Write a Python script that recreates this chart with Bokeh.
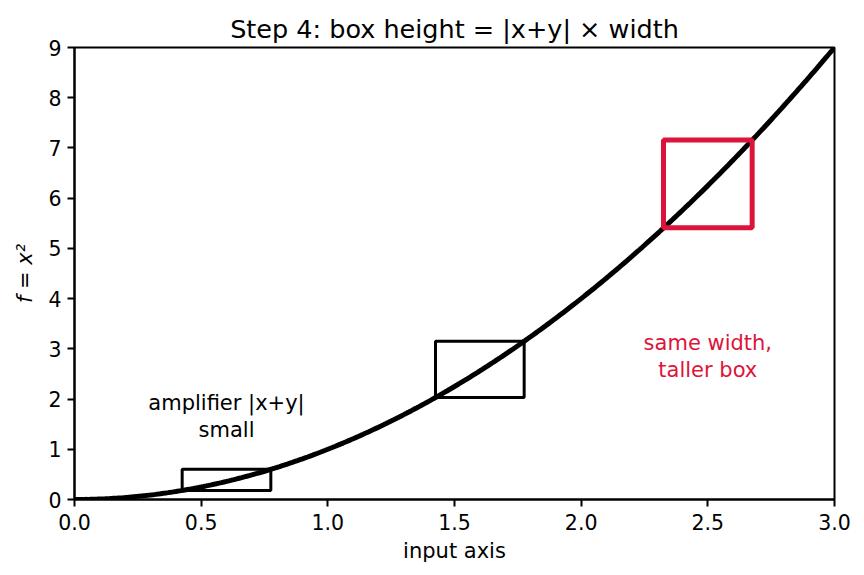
import numpy as np
from bokeh.plotting import figure
from bokeh.models import Range1d, FixedTicker, CustomJSTickFormatter
from bokeh.core.properties import value
from bokeh.embed import file_html
from bokeh.resources import INLINE

# curve f = x^2
curve_x = np.linspace(0, 3, 301)
curve_y = curve_x ** 2

# boxes
box_left = [0.425, 1.425, 2.325]
box_right = [0.775, 1.775, 2.675]
box_bottom = [0.18, 2.03, 5.41]
box_top = [0.60, 3.15, 7.16]
box_color = ["black", "black", "#DC143C"]
box_width = [3, 3, 5]

# annotations
note_x = [0.6, 2.5]
note_y = [1.65, 2.85]
note_text = ["amplifier |x+y|\nsmall", "same width,\ntaller box"]
note_color = ["black", "#DC143C"]

x_ticks = [0.0, 0.5, 1.0, 1.5, 2.0, 2.5, 3.0]
y_ticks = [0, 1, 2, 3, 4, 5, 6, 7, 8, 9]

FONT = "DejaVu Sans"

p = figure(width=864, height=575, output_backend="svg", toolbar_location=None,
           x_range=Range1d(0, 3), y_range=Range1d(0, 9),
           min_border_left=74, min_border_right=30, min_border_top=47, min_border_bottom=76,
           title="Step 4: box height = |x+y| × width")
p.title.align = "center"
p.title.text_font = FONT
p.title.text_font_size = "25.5px"
p.title.text_font_style = "normal"
p.title.text_color = "black"
p.title.standoff = 7

p.grid.visible = False
p.outline_line_color = "black"
p.outline_line_width = 2
p.outline_line_alpha = 1

for ax in (p.xaxis[0], p.yaxis[0]):
    ax.axis_line_width = 2
    ax.major_tick_line_width = 2
    ax.major_tick_out = 7
    ax.major_tick_in = 0
    ax.minor_tick_line_color = None
    ax.major_label_text_font = FONT
    ax.major_label_text_font_size = "20.5px"
    ax.major_label_text_color = "black"
    ax.axis_label_text_font = FONT
    ax.axis_label_text_font_size = "21px"
    ax.axis_label_text_font_style = "normal"
    ax.axis_label_text_color = "black"

p.xaxis.ticker = FixedTicker(ticks=x_ticks)
p.xaxis.formatter = CustomJSTickFormatter(code="return tick.toFixed(1);")
p.yaxis.ticker = FixedTicker(ticks=y_ticks)
p.xaxis.axis_label = "input axis"
p.yaxis.axis_label = "f = x²"
p.yaxis.axis_label_text_font_style = "italic"
p.xaxis.major_label_standoff = 7
p.yaxis.major_label_standoff = 6
p.xaxis.axis_label_standoff = 6
p.yaxis.axis_label_standoff = 8

p.line(curve_x, curve_y, line_color="black", line_width=5)

p.quad(left=box_left, right=box_right, bottom=box_bottom, top=box_top,
       fill_color=None, line_color=box_color, line_width=box_width)

p.text(x=note_x, y=note_y, text=note_text, text_color=note_color,
       text_font=value(FONT), text_font_size="21px",
       text_align="center", text_baseline="middle", text_line_height=1.1)

open("out.html", "w").write(file_html(p, INLINE))
